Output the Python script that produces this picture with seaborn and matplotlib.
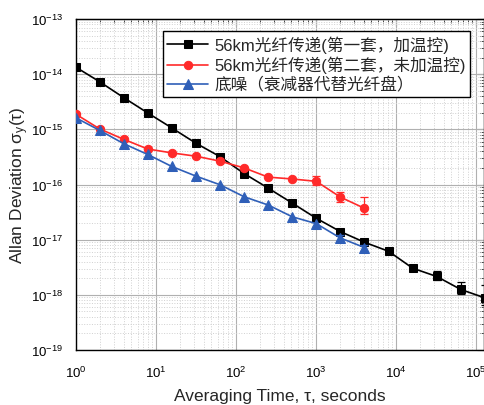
import numpy as np
import pandas as pd
import matplotlib
matplotlib.use("Agg")
import matplotlib.pyplot as plt
import seaborn as sns
from matplotlib.ticker import LogLocator, NullFormatter

sns.set_style("white")
plt.rcParams['font.family'] = ['Liberation Sans', 'Noto Sans CJK SC', 'DejaVu Sans']
plt.rcParams['mathtext.fontset'] = 'custom'
plt.rcParams['mathtext.rm'] = 'Liberation Sans'
plt.rcParams['mathtext.it'] = 'Liberation Sans:italic'

# ---- data ----
tau_black = [1, 2, 4, 8, 16, 32, 64, 128, 256, 512, 1024, 2048, 4096, 8192, 16384, 32768, 65536, 131072]
adev_black = [1.35e-14, 7.3e-15, 3.76e-15, 1.98e-15, 1.06e-15, 5.6e-16, 3.2e-16, 1.58e-16, 8.6e-17,
              4.6e-17, 2.44e-17, 1.40e-17, 8.97e-18, 6.16e-18, 3.04e-18, 2.15e-18, 1.25e-18, 8.8e-19]
err_lo_black = [0]*12 + [1.1e-18, 0, 0, 0.33e-18, 0.23e-18, 0.22e-18]
err_hi_black = [0]*12 + [1.2e-18, 0, 0, 0.5e-18, 0.47e-18, 0.6e-18]

tau_red = [1, 2, 4, 8, 16, 32, 64, 128, 256, 512, 1024, 2048, 4096]
adev_red = [1.9e-15, 1.02e-15, 6.6e-16, 4.4e-16, 3.74e-16, 3.26e-16, 2.65e-16, 2.0e-16, 1.36e-16,
            1.26e-16, 1.14e-16, 5.9e-17, 3.7e-17]
err_lo_red = [0]*10 + [1.7e-17, 1.1e-17, 0.8e-17]
err_hi_red = [0]*10 + [2.9e-17, 1.4e-17, 2.3e-17]

tau_blue = [1, 2, 4, 8, 16, 32, 64, 128, 256, 512, 1024, 2048, 4096]
adev_blue = [1.63e-15, 9.6e-16, 5.5e-16, 3.5e-16, 2.12e-16, 1.42e-16, 9.9e-17, 6.0e-17, 4.25e-17,
             2.6e-17, 1.95e-17, 1.07e-17, 7.2e-18]
err_lo_blue = [0]*11 + [0.12e-17, 0.85e-18]
err_hi_blue = [0]*11 + [0.14e-17, 0.95e-18]

labels = ["56km光纤传递(第一套，加温控)", "56km光纤传递(第二套，未加温控)", "底噪（衰减器代替光纤盘）"]
colors = ["#000000", "#ff2a2a", "#2f5fb8"]
markers = ["s", "o", "^"]

series = [
    (tau_black, adev_black, err_lo_black, err_hi_black),
    (tau_red, adev_red, err_lo_red, err_hi_red),
    (tau_blue, adev_blue, err_lo_blue, err_hi_blue),
]

W, H = 484, 406
fig = plt.figure(figsize=(W/100, H/100), dpi=100)
ax = fig.add_axes([75.5/W, 55/H, 408/W, 331/H])
ax.set_xscale('log')
ax.set_yscale('log')

# grid
ax.grid(True, which='major', color='#b0b0b0', linestyle='-', linewidth=0.8)
ax.grid(True, which='minor', color='#d0d0d0', linestyle=':', linewidth=0.7)
ax.set_axisbelow(True)

msizes = [5.5, 6, 6.5]
for (t, v, lo, hi), lab, c, m, ms in zip(series, labels, colors, markers, msizes):
    df = pd.DataFrame({"tau": t, "adev": v})
    sns.lineplot(data=df, x="tau", y="adev", color=c, marker=m, markersize=ms,
                 markeredgecolor=c, linewidth=1.2, label=lab, ax=ax, zorder=3)
    lo_a = np.array(lo); hi_a = np.array(hi)
    mask = (lo_a > 0) | (hi_a > 0)
    ax.errorbar(np.array(t)[mask], np.array(v)[mask], yerr=[lo_a[mask], hi_a[mask]],
                fmt='none', ecolor=c, elinewidth=0.9, capsize=3, capthick=0.9, zorder=3)

ax.set_xlim(1, 10**(408/80))
ax.set_ylim(1e-19, 1e-13)

ax.xaxis.set_major_locator(LogLocator(base=10, numticks=10))
ax.xaxis.set_minor_locator(LogLocator(base=10, subs=np.arange(2, 10), numticks=20))
ax.yaxis.set_major_locator(LogLocator(base=10, numticks=10))
ax.yaxis.set_minor_locator(LogLocator(base=10, subs=np.arange(2, 10), numticks=20))
ax.xaxis.set_minor_formatter(NullFormatter())
ax.yaxis.set_minor_formatter(NullFormatter())

ax.tick_params(which='major', direction='out', length=6, width=1.0, labelsize=9.5, colors='black')
ax.tick_params(which='minor', direction='out', length=3.5, width=0.8)
ax.tick_params(axis='x', pad=5)
ax.tick_params(axis='y', pad=3)

# top/right ticks pointing inward
sec = ax.secondary_xaxis('top')
sec.xaxis.set_major_locator(LogLocator(base=10, numticks=10))
sec.xaxis.set_minor_locator(LogLocator(base=10, subs=np.arange(2, 10), numticks=20))
sec.tick_params(which='major', direction='in', length=5, labeltop=False)
sec.tick_params(which='minor', direction='in', length=3)
sec.xaxis.set_major_formatter(NullFormatter())
sec.xaxis.set_minor_formatter(NullFormatter())
secy = ax.secondary_yaxis('right')
secy.yaxis.set_major_locator(LogLocator(base=10, numticks=10))
secy.yaxis.set_minor_locator(LogLocator(base=10, subs=np.arange(2, 10), numticks=20))
secy.tick_params(which='major', direction='in', length=5, labelright=False)
secy.tick_params(which='minor', direction='in', length=3)
secy.yaxis.set_major_formatter(NullFormatter())
secy.yaxis.set_minor_formatter(NullFormatter())

for sp in ax.spines.values():
    sp.set_color('black')
    sp.set_linewidth(1.0)

ax.set_xlabel("")
ax.set_ylabel("")
fig.text((75.5 + 204)/W, 1.5/H, "Averaging Time, τ, seconds", fontsize=12.5,
         ha='center', va='bottom')
fig.text(20/W, 1 - 185/H, r"Allan Deviation $\mathregular{\sigma_y(\tau)}$", fontsize=12.5,
         rotation=90, ha='center', va='center')

leg = ax.legend(loc='upper left', bbox_to_anchor=(87/408, 1 - 12/331), frameon=True,
                fontsize=12, handlelength=2.5, handletextpad=0.35, borderpad=0.25,
                labelspacing=0.2, fancybox=False, edgecolor='black', framealpha=1,
                borderaxespad=0)
leg.get_frame().set_linewidth(1.0)

fig.savefig("out.png", dpi=100)
